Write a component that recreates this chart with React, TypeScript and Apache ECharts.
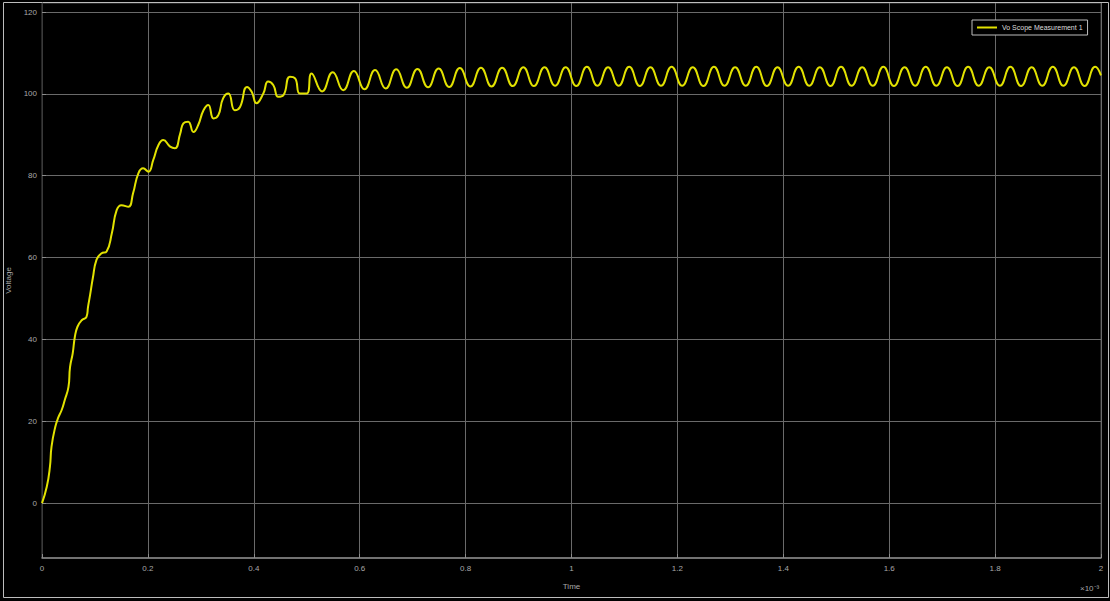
import React, { useEffect, useRef } from "react";
import * as echarts from "echarts";

// Rise (start-up transient)
const riseT = [0, 0.009, 0.015, 0.018, 0.025, 0.031, 0.037, 0.043, 0.05, 0.053, 0.058, 0.062, 0.067, 0.075, 0.084, 0.087, 0.091, 0.096, 0.103, 0.112, 0.122, 0.132, 0.141, 0.15, 0.163, 0.172, 0.182, 0.191, 0.201, 0.21, 0.22, 0.229, 0.242, 0.251, 0.261, 0.267, 0.276, 0.286, 0.295, 0.305, 0.314, 0.324, 0.333, 0.342, 0.352, 0.364, 0.374, 0.387, 0.396, 0.405, 0.418, 0.427, 0.437, 0.446, 0.456, 0.468, 0.478, 0.487, 0.5, 0.509];
const riseV = [0, 4, 8.9, 13.8, 18.6, 21, 22.7, 25.2, 28.4, 33.3, 36.6, 40.6, 43.1, 44.7, 45.5, 48, 51, 55, 59.5, 61, 61.5, 66, 71.6, 72.8, 72.4, 75.7, 80.6, 81.8, 81, 83.8, 87.5, 88.7, 87.1, 86.7, 90.3, 92.8, 93.2, 90.7, 92.4, 96, 97.3, 94, 94.8, 98.9, 100.1, 96, 96.8, 101.7, 100.5, 97.7, 100.1, 103, 102.1, 99.3, 99.7, 104.2, 103.8, 100.1, 100.1, 105];

// Ripple in steady state: troughs and crests
const rippleT = [
  0.529, 0.549, 0.569, 0.589, 0.609, 0.629, 0.649, 0.669, 0.689, 0.709,
  0.729, 0.749, 0.769, 0.789, 0.809, 0.829, 0.849, 0.869, 0.889, 0.909,
  0.929, 0.949, 0.969, 0.989, 1.009, 1.029, 1.049, 1.069, 1.089, 1.109,
  1.129, 1.149, 1.169, 1.189, 1.209, 1.229, 1.249, 1.269, 1.289, 1.309,
  1.329, 1.349, 1.369, 1.389, 1.409, 1.429, 1.449, 1.469, 1.489, 1.509,
  1.529, 1.549, 1.569, 1.589, 1.609, 1.629, 1.649, 1.669, 1.689, 1.709,
  1.729, 1.749, 1.769, 1.789, 1.809, 1.829, 1.849, 1.869, 1.889, 1.909,
  1.929, 1.949, 1.969, 1.989, 2.0,
];
const rippleV = [
  100.6, 105.3, 100.9, 105.6, 101.1, 105.8, 101.3, 106.0, 101.5, 106.1,
  101.6, 106.2, 101.7, 106.3, 101.8, 106.4, 101.8, 106.4, 101.9, 106.5,
  101.9, 106.5, 102.0, 106.5, 101.9, 106.6, 102.0, 106.5, 102.0, 106.6,
  101.9, 106.5, 102.0, 106.6, 102.0, 106.5, 101.9, 106.6, 102.0, 106.5,
  102.0, 106.6, 101.9, 106.5, 102.0, 106.6, 102.0, 106.5, 101.9, 106.6,
  102.0, 106.5, 102.0, 106.6, 101.9, 106.5, 102.0, 106.6, 102.0, 106.5,
  101.9, 106.6, 102.0, 106.5, 102.0, 106.6, 101.9, 106.5, 102.0, 106.6,
  102.0, 106.5, 101.9, 106.6, 104.5,
];

const xTicks = [0, 0.2, 0.4, 0.6, 0.8, 1, 1.2, 1.4, 1.6, 1.8, 2];
const yTicks = [0, 20, 40, 60, 80, 100, 120];
const seriesName = "Vo Scope Measurement 1";

export default function App() {
  const ref = useRef<HTMLDivElement>(null);
  useEffect(() => {
    document.body.style.margin = "0";
    document.body.style.background = "#000";
    const chart = echarts.init(ref.current!, null, { renderer: "svg" });
    const data = [
      ...riseT.map((t, i) => [t, riseV[i]]),
      ...rippleT.map((t, i) => [t, rippleV[i]]),
    ];
    const labelStyle = { color: "#a8a8a8", fontSize: 8, fontFamily: "Liberation Sans" };
    chart.setOption({
      animation: false,
      backgroundColor: "#000",
      grid: {
        left: 42, right: 9, top: 3, bottom: 43,
        show: true, borderColor: "#4a4a4a", borderWidth: 1,
        containLabel: false, outerBoundsMode: "none",
      },
      legend: {
        left: 972,
        top: 20,
        padding: [4, 5],
        backgroundColor: "#000",
        borderColor: "#bdbdbd",
        borderWidth: 1,
        itemWidth: 20,
        itemHeight: 2,
        itemGap: 4,
        icon: "rect",
        textStyle: { color: "#dcdcdc", fontSize: 7, fontFamily: "Liberation Sans" },
        data: [seriesName],
      },
      xAxis: {
        type: "value",
        min: 0,
        max: 2,
        interval: 0.2,
        name: "Time",
        nameLocation: "middle",
        nameGap: 24,
        nameTextStyle: labelStyle,
        axisLine: { show: true, onZero: false, lineStyle: { color: "#8c8c8c", width: 1.5 } },
        axisTick: { show: true, inside: true, length: 4, lineStyle: { color: "#8c8c8c" } },
        axisLabel: { ...labelStyle, margin: 6, customValues: xTicks },
        splitLine: { show: true, lineStyle: { color: "#6a6a6a", width: 1 } },
      },
      yAxis: {
        type: "value",
        min: -13.4,
        max: 122.2,
        name: "Voltage",
        nameLocation: "middle",
        nameGap: 29,
        nameTextStyle: labelStyle,
        axisLine: { show: true, onZero: false, lineStyle: { color: "#3a3a3a" } },
        axisTick: { show: true, inside: true, length: 4, lineStyle: { color: "#8c8c8c" }, customValues: yTicks },
        axisLabel: { ...labelStyle, margin: 5, customValues: yTicks },
        splitLine: { show: true, lineStyle: { color: "#6a6a6a", width: 1 } },
      },
      series: [
        {
          name: seriesName,
          type: "line",
          data,
          smooth: 0.5,
          showSymbol: false,
          symbol: "none",
          lineStyle: { color: "#e2e200", width: 2 },
          itemStyle: { color: "#e2e200" },
        },
      ],
      graphic: [
        {
          type: "rect",
          shape: { x: 3.5, y: 2.5, width: 1105, height: 595 },
          style: { fill: "none", stroke: "#bdbdbd", lineWidth: 1 },
          silent: true,
        },
        {
          type: "text",
          x: 1080,
          y: 584,
          style: { text: "×10⁻³", fill: "#a8a8a8", fontSize: 8, fontFamily: "Liberation Sans" },
        },
      ],
    });
    return () => chart.dispose();
  }, []);
  return <div ref={ref} style={{ width: 1110, height: 601 }} />;
}
